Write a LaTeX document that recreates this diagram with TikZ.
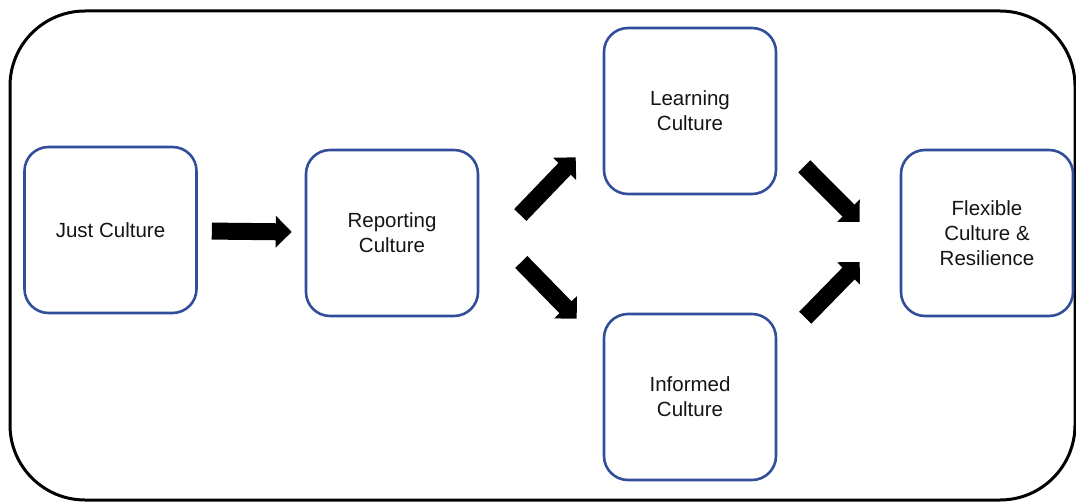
\documentclass[tikz,border=0pt]{standalone}
\usepackage{fontspec}
\setmainfont{Liberation Sans}
\usepackage{tikz}
\usetikzlibrary{arrows.meta}
\usetikzlibrary{positioning}
\usetikzlibrary{calc}
\definecolor{boxblue}{RGB}{50,78,155}
\definecolor{inkblack}{RGB}{20,20,20}
\begin{document}
\begin{tikzpicture}[x=1pt,y=-1pt,
    culture/.style={draw=boxblue, line width=2.6pt, rounded corners=24pt,
        minimum width=172pt, minimum height=166pt, inner sep=0pt, align=center,
        text=inkblack, font=\fontsize{20.5pt}{25pt}\selectfont},
    flow/.style={line width=17pt, -{Triangle[width=31pt,length=16pt]}}]
\useasboundingbox (0,0) rectangle (1076,502);
\draw [line width=3pt, rounded corners=75pt] (10,11) rectangle (1075,500);
\node (just) [culture] at (110.5,230) {Just Culture};
\node (report) [culture] at (392,233) {Reporting\\Culture};
\node (learn) [culture] at (690,111) {Learning\\Culture};
\node (inform) [culture] at (690,397) {Informed\\Culture};
\node (flex) [culture] at (987,233) {Flexible\\Culture \&\\Resilience};
\draw [flow, shorten <=14pt, shorten >=13pt] (just) -- (report);
\draw [flow] ($(report.east)+(41,-18)$) -- ($(learn.south west)+(-27,-38)$);
\draw [flow] ($(report.east)+(42,29)$) -- ($(inform.north west)+(-26,6)$);
\draw [flow] ($(learn.south east)+(27,-29)$) -- ($(flex.west)+(-40,-11)$);
\draw [flow] ($(inform.north east)+(28,5)$) -- ($(flex.west)+(-40,29)$);
\end{tikzpicture}
\end{document}
